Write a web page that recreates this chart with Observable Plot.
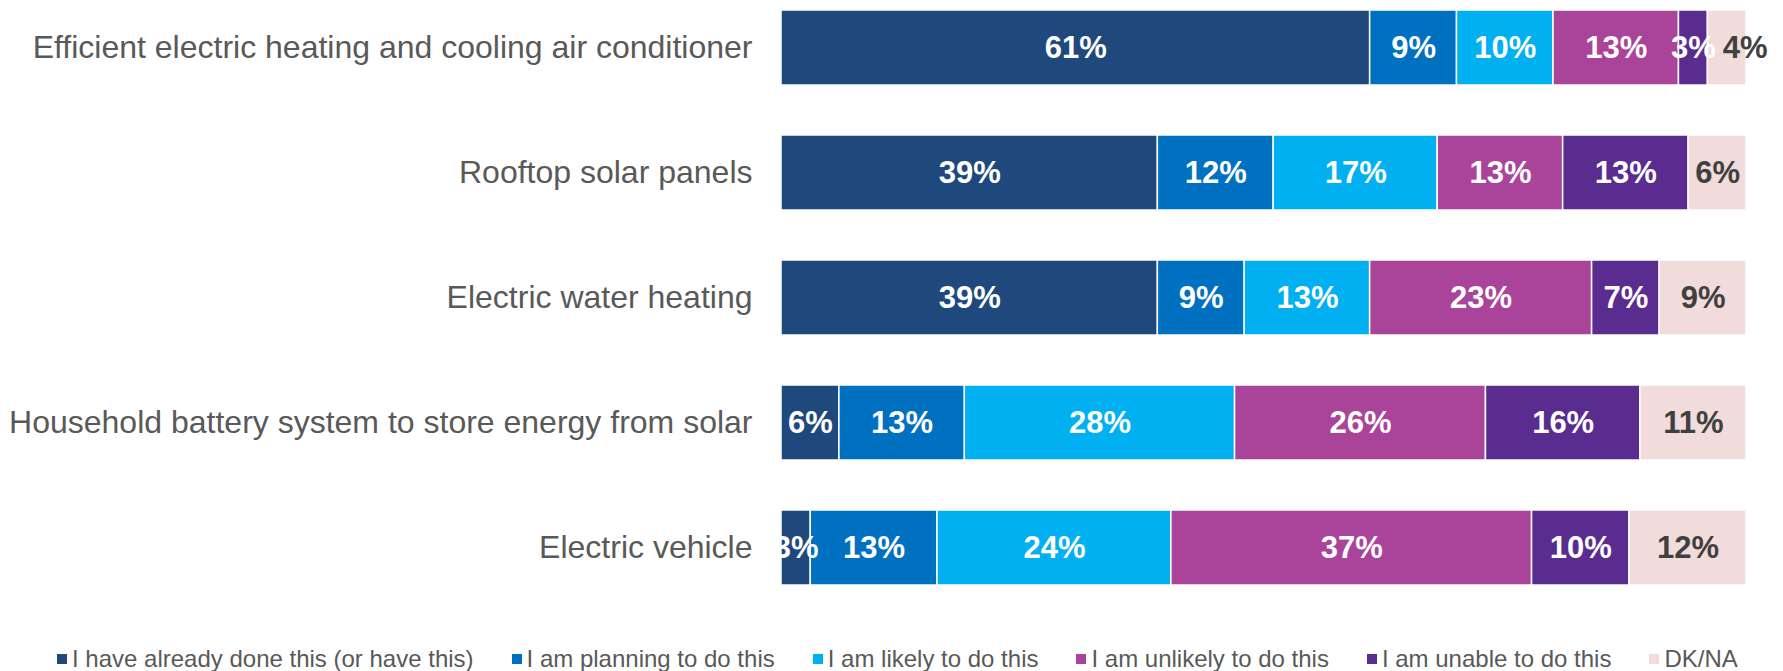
<!DOCTYPE html>
<html>
<head>
<meta charset="utf-8">
<script src="https://cdn.jsdelivr.net/npm/d3@7"></script>
<script src="https://cdn.jsdelivr.net/npm/@observablehq/plot@0.6"></script>
<style>
  body { margin: 0; background: #fff; font-family: "Liberation Sans", Arial, sans-serif; }
  #legend { display: flex; gap: 38px; padding-left: 57px; padding-top: 17px; height: 24px; line-height: 24px; font-size: 24px; color: #595959; white-space: nowrap; }
  #legend .item { display: flex; align-items: center; }
  #legend .sw { width: 10px; height: 10px; margin-right: 5px; display: inline-block; }
</style>
</head>
<body>
<div id="chart"></div>
<div id="legend"></div>
<script>
const categories = [
  "Efficient electric heating and cooling air conditioner",
  "Rooftop solar panels",
  "Electric water heating",
  "Household battery system to store energy from solar",
  "Electric vehicle"
];
const responses = [
  "I have already done this (or have this)",
  "I am planning to do this",
  "I am likely to do this",
  "I am unlikely to do this",
  "I am unable to do this",
  "DK/NA"
];
const colors = ["#1F497D", "#0070C0", "#00B0F0", "#A9449A", "#5B2C8F", "#F2DCDB"];
const airConditioner = [61, 9, 10, 13, 3, 4];
const rooftopSolar = [39, 12, 17, 13, 13, 6];
const waterHeating = [39, 9, 13, 23, 7, 9];
const batterySystem = [6, 13, 28, 26, 16, 11];
const electricVehicle = [3, 13, 24, 37, 10, 12];
const series = [airConditioner, rooftopSolar, waterHeating, batterySystem, electricVehicle];

const data = categories.flatMap((c, i) => responses.map((r, j) => ({category: c, response: r, value: series[i][j]})));

// narrow last segments get their label nudged right (as in the reference)
const nudged = d => d.response === "DK/NA" && d.value < 5;
const labelFill = d => d.response === "DK/NA" ? "#404040" : "white";

const plot = Plot.plot({
  width: 1783,
  height: 630,
  marginLeft: 781,
  marginRight: 37,
  marginTop: 3,
  marginBottom: 39,
  style: {fontFamily: "'Liberation Sans', Arial, sans-serif", color: "#595959"},
  x: {domain: [0, 1], axis: null},
  y: {domain: categories, paddingInner: 0.4, paddingOuter: 0.05, label: null},
  color: {domain: responses, range: colors},
  marks: [
    Plot.barX(data, Plot.stackX({offset: "normalize", x: "value", y: "category", fill: "response", stroke: "white", strokeWidth: 1.5})),
    Plot.text(data, Plot.stackX({offset: "normalize", x: "value", y: "category", z: "response",
      text: d => nudged(d) ? "" : d.value + "%",
      fill: labelFill, fontSize: 31, fontWeight: "bold"})),
    Plot.text(data, Plot.stackX({offset: "normalize", x: "value", y: "category", z: "response",
      text: d => nudged(d) ? d.value + "%" : "",
      fill: labelFill, fontSize: 31, fontWeight: "bold", dx: 18})),
    Plot.axisY({tickSize: 0, tickPadding: 29, fontSize: 32, label: null, fill: "#595959"})
  ]
});
document.getElementById("chart").appendChild(plot);

const legend = document.getElementById("legend");
responses.forEach((r, j) => {
  const item = document.createElement("span");
  item.className = "item";
  const sw = document.createElement("span");
  sw.className = "sw";
  sw.style.background = colors[j];
  item.appendChild(sw);
  item.appendChild(document.createTextNode(r));
  legend.appendChild(item);
});
</script>
</body>
</html>
